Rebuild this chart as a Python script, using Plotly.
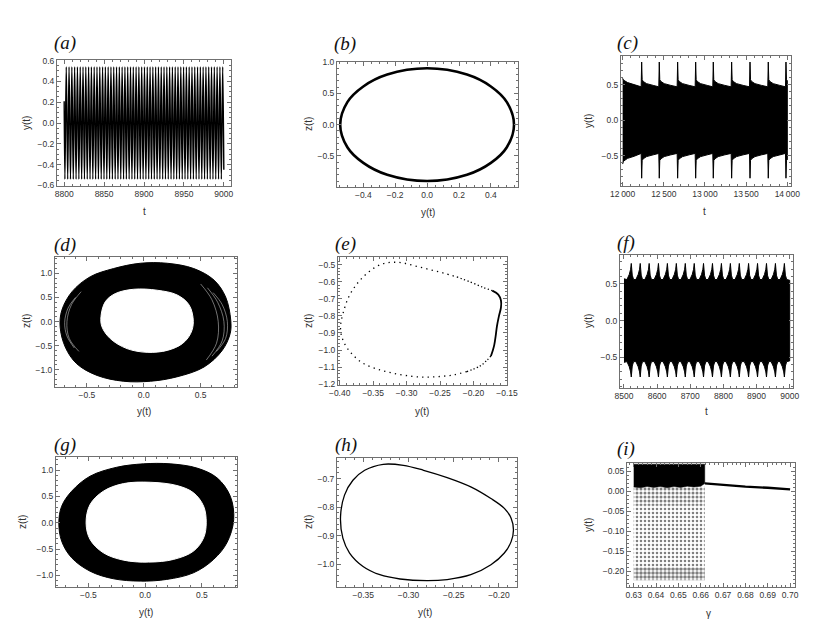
import plotly.graph_objects as go

W, H = 819, 640

# ============================ DATA ============================
# (a) y(t) for 8800<=t<=9000 : extreme points of the fast oscillation
a_peak_t = [8802.6, 8806.1, 8809.6, 8813.1, 8816.6, 8820.1, 8823.6, 8827.1, 8830.6, 8834.1,
            8837.6, 8841.1, 8844.6, 8848.1, 8851.6, 8855.1, 8858.6, 8862.1, 8865.6, 8869.1,
            8872.6, 8876.1, 8879.6, 8883.1, 8886.6, 8890.1, 8893.6, 8897.1, 8900.6, 8904.1,
            8907.6, 8911.1, 8914.6, 8918.1, 8921.6, 8925.1, 8928.6, 8932.1, 8935.6, 8939.1,
            8942.6, 8946.1, 8949.6, 8953.1, 8956.6, 8960.1, 8963.6, 8967.1, 8970.6, 8974.1,
            8977.6, 8981.1, 8984.6, 8988.1, 8991.6, 8995.1, 8998.6]
a_trough_t = [8800.9, 8804.4, 8807.9, 8811.4, 8814.9, 8818.4, 8821.9, 8825.4, 8828.9, 8832.4,
              8835.9, 8839.4, 8842.9, 8846.4, 8849.9, 8853.4, 8856.9, 8860.4, 8863.9, 8867.4,
              8870.9, 8874.4, 8877.9, 8881.4, 8884.9, 8888.4, 8891.9, 8895.4, 8898.9, 8902.4,
              8905.9, 8909.4, 8912.9, 8916.4, 8919.9, 8923.4, 8926.9, 8930.4, 8933.9, 8937.4,
              8940.9, 8944.4, 8947.9, 8951.4, 8954.9, 8958.4, 8961.9, 8965.4, 8968.9, 8972.4,
              8975.9, 8979.4, 8982.9, 8986.4, 8989.9, 8993.4, 8996.9]
a_peak_y = 0.54
a_trough_y = -0.54
a_edge_t = [8800.0, 9000.0]
a_edge_y = [0.21, -0.45]

# (b) limit cycle z(t) vs y(t)
b_y = [0.545, 0.50, 0.40, 0.25, 0.00, -0.25, -0.40, -0.50, -0.545, -0.50, -0.40, -0.25, 0.00, 0.25, 0.40, 0.50, 0.545]
b_z = [0.00, 0.36, 0.61, 0.80, 0.90, 0.80, 0.61, 0.36, 0.00, -0.36, -0.61, -0.80, -0.90, -0.80, -0.61, -0.36, 0.00]

# (c) envelope of y(t), 12000<=t<=14000, with bursts
c_spike_t = [12231, 12445, 12668, 12887, 13101, 13324, 13547, 13769, 13984]
c_shape_dt = [-6, 0, 6, 20, 60, 140]
c_upper_v = [0.47, 0.82, 0.57, 0.545, 0.515, 0.49]
c_lower_v = [-0.47, -0.82, -0.57, -0.545, -0.515, -0.49]
c_head_t = [12000, 12010, 12060, 12140]
c_head_up = [0.59, 0.565, 0.53, 0.50]
c_head_lo = [-0.62, -0.58, -0.54, -0.51]
c_end_t, c_end_up, c_end_lo = 14000, 0.56, -0.56

# (d) torus-like attractor: outer and inner boundary, plus light gaps near the rim
d_out_y = [0.765, 0.72, 0.618, 0.44, 0.206, -0.03, -0.265, -0.47, -0.63, -0.72, -0.735, -0.69, -0.59, -0.41, -0.18, 0.06, 0.29, 0.53, 0.69, 0.76, 0.765]
d_out_z = [0.03, 0.51, 0.86, 1.10, 1.21, 1.21, 1.10, 0.93, 0.62, 0.235, -0.11, -0.53, -0.875, -1.12, -1.24, -1.24, -1.15, -0.945, -0.60, -0.25, 0.03]
d_in_y = [0.436, 0.40, 0.295, 0.118, -0.088, -0.25, -0.338, -0.376, -0.367, -0.294, -0.147, 0.03, 0.206, 0.339, 0.412, 0.436]
d_in_z = [0.00, 0.34, 0.55, 0.65, 0.67, 0.58, 0.41, 0.10, -0.11, -0.355, -0.5625, -0.64, -0.60, -0.46, -0.25, 0.00]
d_gap_y = [[-0.55, -0.635, -0.675, -0.655, -0.57],
           [-0.60, -0.665, -0.695, -0.675, -0.61],
           [0.50, 0.60, 0.655, 0.64, 0.55],
           [0.56, 0.65, 0.705, 0.69, 0.60],
           [0.61, 0.69, 0.735, 0.72, 0.64]]
d_gap_z = [[0.62, 0.35, 0.00, -0.35, -0.62],
           [0.50, 0.28, -0.02, -0.30, -0.55],
           [0.78, 0.45, 0.00, -0.45, -0.80],
           [0.70, 0.40, 0.00, -0.40, -0.72],
           [0.60, 0.35, 0.00, -0.35, -0.62]]

# (e) Poincare-like section: sparse dots, denser dots and continuous part
e_sparse_y = [-0.210, -0.230, -0.250, -0.270, -0.290, -0.315, -0.340, -0.365, -0.3825, -0.393, -0.398, -0.3985,
              -0.395, -0.3875, -0.3775, -0.365, -0.350, -0.335, -0.320, -0.305, -0.285, -0.265, -0.245, -0.225]
e_sparse_z = [-1.126, -1.146, -1.155, -1.159, -1.155, -1.140, -1.1165, -1.078, -1.019, -0.961, -0.903, -0.850,
              -0.786, -0.698, -0.630, -0.572, -0.523, -0.494, -0.486, -0.490, -0.510, -0.529, -0.549, -0.572]
e_dense_y = [-0.225, -0.205, -0.185, -0.172]
e_dense_z = [-0.572, -0.601, -0.634, -0.652]
e_solid_y = [-0.172, -0.163, -0.159, -0.159, -0.162, -0.165, -0.167, -0.169, -0.171, -0.174]
e_solid_z = [-0.652, -0.675, -0.710, -0.750, -0.800, -0.860, -0.920, -0.970, -1.000, -1.035]
e_tail_y = [-0.174, -0.180, -0.190, -0.210]
e_tail_z = [-1.035, -1.060, -1.093, -1.126]

# (f) envelope of y(t), 8500<=t<=9000
f_peak_t = [8522, 8549, 8576, 8604, 8631, 8658, 8685, 8712, 8740, 8767, 8794, 8821, 8848, 8876, 8903, 8930, 8957, 8984]
f_shape_dt = [-13, -6, -2, 0, 3, 7]
f_upper_v = [0.56, 0.63, 0.70, 0.78, 0.62, 0.56]
f_lower_v = [-0.56, -0.63, -0.70, -0.77, -0.62, -0.56]
f_head_t = [8500]
f_head_up = [0.57]
f_head_lo = [-0.57]
f_end_t, f_end_up, f_end_lo = 9000, 0.55, -0.55

# (g) quasi-periodic torus: outer and inner boundary
g_out_y = [0.78, 0.75, 0.633, 0.456, 0.22, -0.015, -0.25, -0.485, -0.647, -0.735, -0.76, -0.735, -0.647, -0.485, -0.28, -0.044, 0.19, 0.426, 0.603, 0.72, 0.78]
g_out_z = [0.06, 0.505, 0.854, 1.04, 1.12, 1.12, 1.055, 0.885, 0.60, 0.315, 0.00, -0.35, -0.665, -0.92, -1.063, -1.108, -1.076, -0.95, -0.696, -0.38, 0.06]
g_in_y = [0.538, 0.515, 0.426, 0.28, 0.044, -0.19, -0.368, -0.485, -0.52, -0.485, -0.368, -0.19, 0.03, 0.25, 0.426, 0.515, 0.538]
g_in_z = [0.00, 0.315, 0.57, 0.708, 0.77, 0.745, 0.60, 0.347, 0.00, -0.317, -0.57, -0.71, -0.747, -0.696, -0.538, -0.285, 0.00]

# (h) closed orbit
h_y = [-0.3751, -0.3707, -0.3614, -0.3484, -0.3279, -0.3056, -0.2833, -0.2572, -0.2311, -0.2088, -0.1940, -0.1865, -0.1839,
       -0.1865, -0.1940, -0.2088, -0.2311, -0.2572, -0.2796, -0.3093, -0.3316, -0.3502, -0.3651, -0.3725, -0.3751]
h_z = [-0.834, -0.758, -0.706, -0.671, -0.650, -0.6537, -0.671, -0.6965, -0.729, -0.770, -0.8045, -0.839, -0.880,
       -0.921, -0.961, -1.002, -1.037, -1.054, -1.058, -1.052, -1.037, -1.008, -0.961, -0.909, -0.834]

# (i) bifurcation diagram y vs gamma
i_band_g = [0.630, 0.6618, 0.6618, 0.660, 0.657, 0.654, 0.651, 0.648, 0.645, 0.642, 0.639, 0.636, 0.633, 0.630]
i_band_y = [0.068, 0.068, 0.020, 0.013, 0.011, 0.013, 0.010, 0.012, 0.009, 0.012, 0.010, 0.012, 0.009, 0.011]
i_cloud_g = [0.630, 0.6618]
i_cloud_top = [0.012, -0.035, -0.190]
i_cloud_bot = [-0.035, -0.190, -0.222]
i_cloud_density = [0.45, 0.32, 0.6]
i_line_g = [0.6618, 0.670, 0.680, 0.690, 0.700]
i_line_y = [0.020, 0.016, 0.012, 0.009, 0.005]

# tick values
a_xt = [8800, 8850, 8900, 8950, 9000]
a_yt = [-0.6, -0.4, -0.2, 0.0, 0.2, 0.4, 0.6]
b_xt = [-0.4, -0.2, 0.0, 0.2, 0.4]
b_yt = [-0.5, 0.0, 0.5, 1.0]
c_xt = [12000, 12500, 13000, 13500, 14000]
c_yt = [-0.5, 0.0, 0.5]
d_xt = [-0.5, 0.0, 0.5]
d_yt = [-1.0, -0.5, 0.0, 0.5, 1.0]
e_xt = [-0.40, -0.35, -0.30, -0.25, -0.20, -0.15]
e_yt = [-1.2, -1.1, -1.0, -0.9, -0.8, -0.7, -0.6, -0.5]
f_xt = [8500, 8600, 8700, 8800, 8900, 9000]
f_yt = [-0.5, 0.0, 0.5]
g_xt = [-0.5, 0.0, 0.5]
g_yt = [-1.0, -0.5, 0.0, 0.5, 1.0]
h_xt = [-0.35, -0.30, -0.25, -0.20]
h_yt = [-1.0, -0.9, -0.8, -0.7]
i_xt = [0.63, 0.64, 0.65, 0.66, 0.67, 0.68, 0.69, 0.70]
i_yt = [-0.20, -0.15, -0.10, -0.05, 0.00, 0.05]

# ============================ HELPERS ============================
def envelope(head_t, head_v, events, dts, vals, end_t, end_v):
    ts, vs = list(head_t), list(head_v)
    for ev in events:
        for d, v in zip(dts, vals):
            if head_t[-1] < ev + d < end_t:
                ts.append(ev + d)
                vs.append(v)
    ts.append(end_t)
    vs.append(end_v)
    return ts, vs

FRAME = '#707070'
TICKFONT = dict(family='Liberation Sans, Arial, sans-serif', size=8.5, color='#333333')
TITLEFONT = dict(family='Liberation Sans, Arial, sans-serif', size=10, color='#333333')

# panel frames in pixels: L, R, T, B
frames = {
    'a': (57, 231, 60, 186), 'b': (337, 518, 62, 187), 'c': (621, 791, 56, 186),
    'd': (55, 237, 257, 387), 'e': (338, 507, 257, 385), 'f': (620, 793, 255, 388),
    'g': (56, 237, 457, 587), 'h': (337, 517, 458, 587), 'i': (627, 795, 463, 587),
}
order = ['a', 'b', 'c', 'd', 'e', 'f', 'g', 'h', 'i']

axes_spec = {
    'a': dict(xr=[8791, 9009], yr=[-0.605, 0.605], xt=a_xt, yt=a_yt, xf='d', yf='.1f', xm=10, ym=0.05),
    'b': dict(xr=[-0.565, 0.57], yr=[-0.995, 1.0], xt=b_xt, yt=b_yt, xf='.1f', yf='.1f', xm=0.05, ym=0.1),
    'c': dict(xr=[11980, 14045], yr=[-0.93, 0.905], xt=c_xt, yt=c_yt, xf=',d', yf='.1f', xm=100, ym=0.1),
    'd': dict(xr=[-0.78, 0.82], yr=[-1.36, 1.34], xt=d_xt, yt=d_yt, xf='.1f', yf='.1f', xm=0.1, ym=0.1),
    'e': dict(xr=[-0.4025, -0.15], yr=[-1.205, -0.455], xt=e_xt, yt=e_yt, xf='.2f', yf='.1f', xm=0.01, ym=0.02),
    'f': dict(xr=[8488, 9010], yr=[-0.92, 0.895], xt=f_xt, yt=f_yt, xf='d', yf='.1f', xm=20, ym=0.1),
    'g': dict(xr=[-0.785, 0.809], yr=[-1.22, 1.25], xt=g_xt, yt=g_yt, xf='.1f', yf='.1f', xm=0.1, ym=0.1),
    'h': dict(xr=[-0.379, -0.18], yr=[-1.08, -0.628], xt=h_xt, yt=h_yt, xf='.2f', yf='.1f', xm=0.01, ym=0.02),
    'i': dict(xr=[0.627, 0.7022], yr=[-0.239, 0.071], xt=i_xt, yt=i_yt, xf='.2f', yf='.2f', xm=0.002, ym=0.01),
}

fig = go.Figure()
layout = dict(width=W, height=H, margin=dict(l=0, r=0, t=0, b=0, autoexpand=False), showlegend=False,
              paper_bgcolor='white', plot_bgcolor='white', separators='.\u2009')

def axis_dict(domain, rng, tv, fmt, minor_dt, anchor):
    return dict(domain=domain, range=rng, anchor=anchor, autorange=False, automargin=False,
                showgrid=False, zeroline=False,
                showline=True, linecolor=FRAME, linewidth=1, mirror='allticks', ticks='inside', ticklen=4,
                tickwidth=1, tickcolor=FRAME, tickfont=TICKFONT, tickmode='array', tickvals=tv, tickformat=fmt,
                minor=dict(ticks='inside', ticklen=2, tickcolor=FRAME, dtick=minor_dt, tick0=0, showgrid=False),
                fixedrange=True)

for k, key in enumerate(order):
    L, R, T, B = frames[key]
    s = axes_spec[key]
    n = '' if k == 0 else str(k + 1)
    layout['xaxis' + n] = axis_dict([L / W, R / W], s['xr'], s['xt'], s['xf'], s['xm'], 'y' + n)
    layout['yaxis' + n] = axis_dict([1 - B / H, 1 - T / H], s['yr'], s['yt'], s['yf'], s['ym'], 'x' + n)

def ax(key):
    k = order.index(key)
    n = '' if k == 0 else str(k + 1)
    return dict(xaxis='x' + n, yaxis='y' + n)

BLACK = '#000000'

# (a)
pts = sorted([(t, a_peak_y) for t in a_peak_t] + [(t, a_trough_y) for t in a_trough_t] +
             list(zip(a_edge_t, a_edge_y)))
fig.add_trace(go.Scatter(x=[p[0] for p in pts], y=[p[1] for p in pts], mode='lines',
                         line=dict(color=BLACK, width=1.4, shape='spline'), **ax('a')))

# (b)
fig.add_trace(go.Scatter(x=b_y, y=b_z, mode='lines', line=dict(color=BLACK, width=2.6, shape='spline'), **ax('b')))

# (c)
ut, uv = envelope(c_head_t, c_head_up, c_spike_t, c_shape_dt, c_upper_v, c_end_t, c_end_up)
lt, lv = envelope(c_head_t, c_head_lo, c_spike_t, c_shape_dt, c_lower_v, c_end_t, c_end_lo)
fig.add_trace(go.Scatter(x=ut + lt[::-1], y=uv + lv[::-1], mode='lines', fill='toself', fillcolor=BLACK,
                         line=dict(color=BLACK, width=1), **ax('c')))

# (d)
fig.add_trace(go.Scatter(x=d_out_y, y=d_out_z, mode='lines', fill='toself', fillcolor=BLACK,
                         line=dict(color=BLACK, width=1, shape='spline'), **ax('d')))
fig.add_trace(go.Scatter(x=d_in_y, y=d_in_z, mode='lines', fill='toself', fillcolor='white',
                         line=dict(color='white', width=1, shape='spline'), **ax('d')))
for gy, gz in zip(d_gap_y, d_gap_z):
    fig.add_trace(go.Scatter(x=gy, y=gz, mode='lines', opacity=0.75,
                             line=dict(color='white', width=0.6, shape='spline'), **ax('d')))

# (e)
fig.add_trace(go.Scatter(x=e_sparse_y, y=e_sparse_z, mode='lines',
                         line=dict(color=BLACK, width=1.3, shape='spline', dash='1.3px,4.2px'), **ax('e')))
fig.add_trace(go.Scatter(x=e_dense_y, y=e_dense_z, mode='lines',
                         line=dict(color=BLACK, width=1.3, shape='spline', dash='1.3px,2.4px'), **ax('e')))
fig.add_trace(go.Scatter(x=e_solid_y, y=e_solid_z, mode='lines',
                         line=dict(color=BLACK, width=1.8, shape='spline'), **ax('e')))
fig.add_trace(go.Scatter(x=e_tail_y, y=e_tail_z, mode='lines',
                         line=dict(color=BLACK, width=1.3, shape='spline', dash='1.3px,2.2px'), **ax('e')))

# (f)
ut, uv = envelope(f_head_t, f_head_up, f_peak_t, f_shape_dt, f_upper_v, f_end_t, f_end_up)
lt, lv = envelope(f_head_t, f_head_lo, f_peak_t, f_shape_dt, f_lower_v, f_end_t, f_end_lo)
fig.add_trace(go.Scatter(x=ut + lt[::-1], y=uv + lv[::-1], mode='lines', fill='toself', fillcolor=BLACK,
                         line=dict(color=BLACK, width=1), **ax('f')))

# (g)
fig.add_trace(go.Scatter(x=g_out_y, y=g_out_z, mode='lines', fill='toself', fillcolor=BLACK,
                         line=dict(color=BLACK, width=1, shape='spline'), **ax('g')))
fig.add_trace(go.Scatter(x=g_in_y, y=g_in_z, mode='lines', fill='toself', fillcolor='white',
                         line=dict(color='white', width=1, shape='spline'), **ax('g')))

# (h)
fig.add_trace(go.Scatter(x=h_y, y=h_z, mode='lines', line=dict(color=BLACK, width=1.3, shape='spline'), **ax('h')))

# (i)
for top, bot, dens in zip(i_cloud_top, i_cloud_bot, i_cloud_density):
    g0, g1 = i_cloud_g
    fig.add_trace(go.Scatter(x=[g0, g1, g1, g0, g0], y=[top, top, bot, bot, top], mode='lines', fill='toself',
                             fillcolor='rgba(0,0,0,0)', line=dict(width=0),
                             fillpattern=dict(shape='.', size=4, solidity=dens, fgcolor=BLACK,
                                              bgcolor='rgba(255,255,255,0)'), **ax('i')))
fig.add_trace(go.Scatter(x=i_band_g, y=i_band_y, mode='lines', fill='toself', fillcolor=BLACK,
                         line=dict(color=BLACK, width=0.5), **ax('i')))
fig.add_trace(go.Scatter(x=i_line_g, y=i_line_y, mode='lines', line=dict(color=BLACK, width=2.4), **ax('i')))

# ------------- annotations: panel labels & axis titles -------------
ann = []
panel_labels = {'a': (52, 43), 'b': (332, 44), 'c': (615, 43), 'd': (52, 245), 'e': (333, 244),
                'f': (615, 243), 'g': (52, 445), 'h': (333, 445), 'i': (615, 449)}
for key, (x, y) in panel_labels.items():
    ann.append(dict(text='<i>(%s)</i>' % key, x=x / W, y=1 - y / H, xref='paper', yref='paper',
                    xanchor='left', yanchor='middle', showarrow=False,
                    font=dict(family='Liberation Serif, Times New Roman, serif', size=19, color='#111111')))

xtitles = {'a': ('t', 144, 211), 'b': ('y(t)', 428, 212), 'c': ('t', 704, 211),
           'd': ('y(t)', 144, 411), 'e': ('y(t)', 422, 411), 'f': ('t', 706, 411),
           'g': ('y(t)', 146, 612), 'h': ('y(t)', 425, 612), 'i': ('γ', 708, 613)}
ytitles = {'a': ('y(t)', 27, 123), 'b': ('z(t)', 309, 124), 'c': ('y(t)', 588, 121),
           'd': ('z(t)', 26, 321), 'e': ('z(t)', 308, 321), 'f': ('y(t)', 588, 321),
           'g': ('z(t)', 22, 522), 'h': ('z(t)', 308, 522), 'i': ('y(t)', 588, 525)}
for key, (t, x, y) in xtitles.items():
    ann.append(dict(text=t, x=x / W, y=1 - y / H, xref='paper', yref='paper', xanchor='center',
                    yanchor='middle', showarrow=False, font=TITLEFONT))
for key, (t, x, y) in ytitles.items():
    ann.append(dict(text=t, x=x / W, y=1 - y / H, xref='paper', yref='paper', xanchor='center',
                    yanchor='middle', showarrow=False, textangle=-90, font=TITLEFONT))
layout['annotations'] = ann

fig.update_layout(**layout)
fig.write_html('out.html', config={'displayModeBar': False},
               post_script="document.body.style.margin='0px';")
